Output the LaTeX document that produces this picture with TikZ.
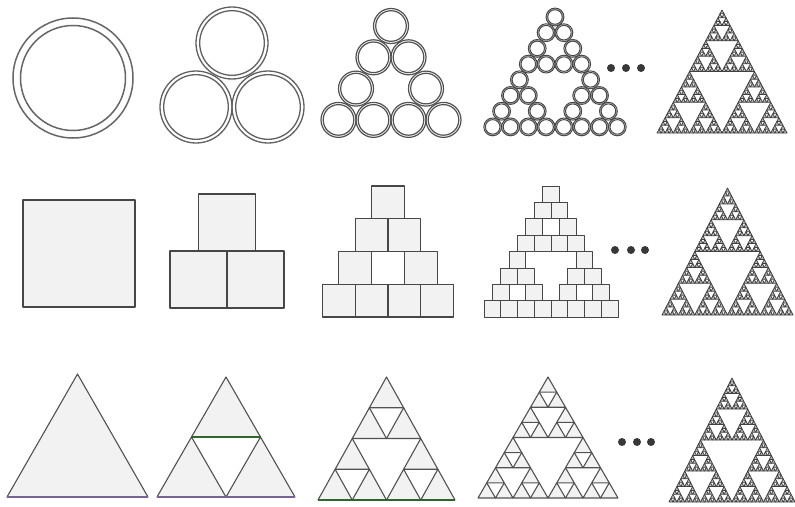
\documentclass[tikz,border=0pt]{standalone}
\tikzset{
  ring1/.style={draw=black!60, line width=1.5pt},
  ring2/.style={draw=black!62, line width=1.3pt},
  ring3/.style={draw=black!68, line width=1.2pt},
  ring4/.style={draw=black!72, line width=1.0pt},
  sq/.style={draw=black!72, fill=black!5, line width=1.2pt, line join=round},
  sqs/.style={draw=black!72, fill=black!5, line width=1.0pt, line join=round},
  tri/.style={draw=black!68, fill=black!5, line width=1.1pt, line join=round},
  frac/.style={draw=black!75, fill=black!28, line width=0.75pt, line join=round},
  blob/.style={fill=black!78},
}
\definecolor{lilac}{RGB}{120,100,150}
\definecolor{dgreen}{RGB}{50,100,45}
% Sierpinski: style, depth, x (bottom-left), y (base), width, height
\newcommand\sierpA[6]{%
  \ifnum#2=0\relax
    \path[#1] (#3,#4) -- ++(#5,0) -- ++(-#5/2,-#6) -- cycle;
  \else
    \begingroup
    \pgfmathsetmacro\sw{#5/2}%
    \pgfmathsetmacro\sh{#6/2}%
    \pgfmathsetmacro\xa{#3+#5/2}%
    \pgfmathsetmacro\xb{#3+#5/4}%
    \pgfmathsetmacro\yb{#4-#6/2}%
    \pgfmathtruncatemacro\dn{#2-1}%
    \edef\next{\noexpand\sierpA{#1}{\dn}{#3}{#4}{\sw}{\sh}%
      \noexpand\sierpA{#1}{\dn}{\xa}{#4}{\sw}{\sh}%
      \noexpand\sierpA{#1}{\dn}{\xb}{\yb}{\sw}{\sh}}%
    \expandafter\endgroup\next
  \fi}
\def\cellsA{0/0,1/0,1/1,2/0,2/2,3/0,3/1,3/2,3/3}
\def\cellsB{0/0,1/0,1/1,2/0,2/2,3/0,3/1,3/2,3/3,4/0,4/4,5/0,5/1,5/4,5/5,6/0,6/2,6/4,6/6,7/0,7/1,7/2,7/3,7/4,7/5,7/6,7/7}
\begin{document}
\begin{tikzpicture}[x=1pt,y=-1pt]
\fill[white] (0,0) rectangle (795,506);
\useasboundingbox (0,0) rectangle (795,506);

% ---------- Row 1: circles ----------
\draw[ring1] (73,78) circle (60pt) (73,78) circle (52.5pt);
\foreach \cx/\cy in {196/107,268/107,232/43}
  \draw[ring2] (\cx,\cy) circle (36pt) (\cx,\cy) circle (32.3pt);
\foreach \i/\j in \cellsA
  \draw[ring3] ({391+(\j-\i/2)*35},{26+\i*31.3}) circle (17.5pt)
               ({391+(\j-\i/2)*35},{26+\i*31.3}) circle (15.3pt);
\foreach \i/\j in \cellsB
  \draw[ring4] ({555+(\j-\i/2)*17.8},{17+\i*15.7}) circle (8.9pt)
               ({555+(\j-\i/2)*17.8},{17+\i*15.7}) circle (7.3pt);
\foreach \x in {611,626,641} \fill[blob] (\x,68) circle (4pt);
\sierpA{frac}{5}{657}{133}{130}{123}

% ---------- Row 2: squares ----------
\draw[sq] (23,200) rectangle (135,307);
\foreach \i/\j in {0/0,1/0,1/1}
  \draw[sq] ({227+(\j-(\i+1)/2)*57},{194+\i*57}) rectangle ++(57,57);
\foreach \i/\j in \cellsA
  \draw[sq] ({388+(\j-(\i+1)/2)*32.75},{186+\i*32.75}) rectangle ++(32.75,32.75);
\foreach \i/\j in \cellsB
  \draw[sqs] ({551+(\j-(\i+1)/2)*16.75},{186+\i*16.4}) rectangle ++(16.75,16.4);
\foreach \x in {615,631,645} \fill[blob] (\x,250) circle (4pt);
\sierpA{frac}{5}{662}{315}{131}{127}

% ---------- Row 3: triangles ----------
\sierpA{tri}{0}{7}{497}{141}{123}
\sierpA{tri}{1}{157}{497}{138}{120}
\sierpA{tri}{2}{318}{500}{137}{123}
\sierpA{tri}{3}{478}{498}{140}{121}
\draw[lilac, line width=1.1pt] (7,497) -- (148,497);
\draw[lilac, line width=1.1pt] (157,497) -- (295,497);
\draw[dgreen, line width=1.1pt] (191.5,437) -- (260.5,437);
\draw[dgreen, line width=1.1pt] (318,500) -- (455,500);
\foreach \x in {622,637,651} \fill[blob] (\x,442) circle (4pt);
\sierpA{frac}{5}{669}{502}{126}{124}
\end{tikzpicture}
\end{document}
